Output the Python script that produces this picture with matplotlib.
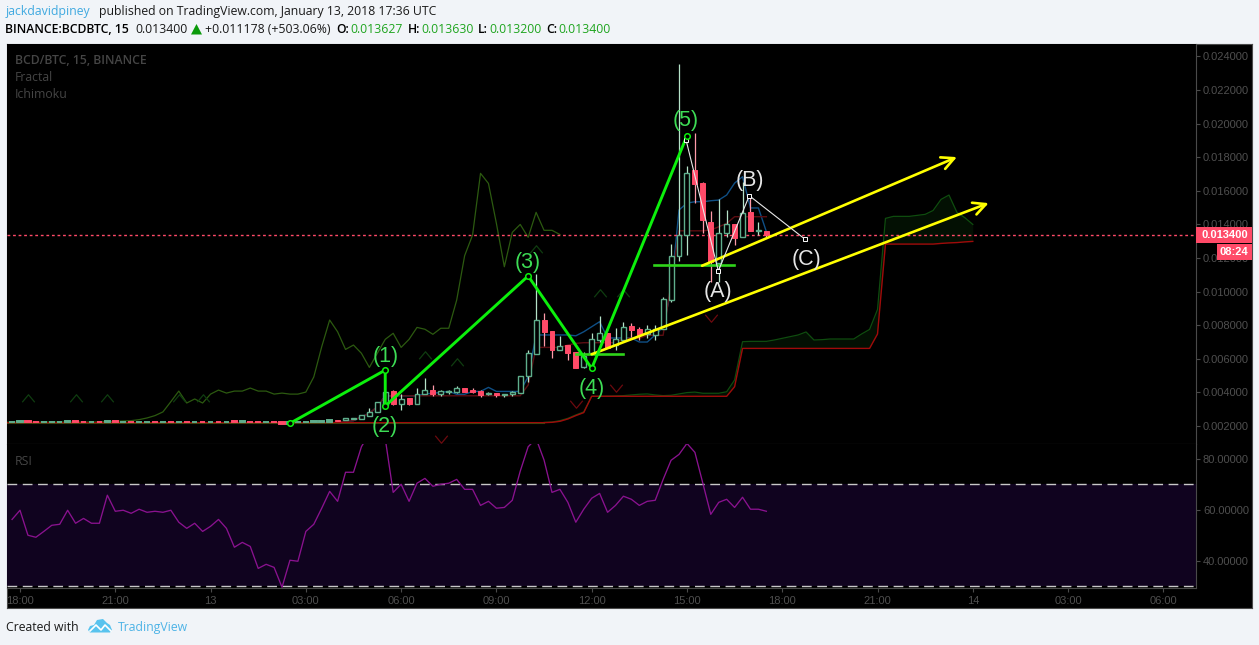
import matplotlib
matplotlib.use('Agg')
import matplotlib.pyplot as plt
from matplotlib.patches import Rectangle, Polygon
from matplotlib.path import Path
import numpy as np

W, H = 1259, 645
plt.rcParams['font.family'] = ['Open Sans', 'DejaVu Sans']

# x axis is bar number, one bar = 15 minutes, bar 0 = 18:00
time_ticks = [0, 12, 24, 36, 48, 60, 72, 84, 96, 108, 120, 132, 144]
time_labels = ['18:00', '21:00', '13', '03:00', '06:00', '09:00', '12:00', '15:00',
               '18:00', '21:00', '14', '03:00', '06:00']
price_ticks = [0.002, 0.004, 0.006, 0.008, 0.010, 0.012, 0.014, 0.016, 0.018, 0.020, 0.022, 0.024]
rsi_ticks = [40, 60, 80]

# almost flat candles, bars -1 to 39
flat_open = [.00222, .00221, .00227, .00224, .00223, .00222, .00223, .00222, .00229, .00224,
             .00223, .00223, .00222, .00228, .00224, .00224, .00223, .00224, .00225, .00224,
             .00225, .00224, .00226, .00223, .00226, .00223, .00226, .00223, .00228, .00222,
             .00224, .00224, .00223, .00224, .00224, .00215, .00221, .00223, .00224, .00225, .00225]
flat_close = [.00222, .00227, .00221, .00223, .00224, .00223, .00224, .00229, .00222, .00223,
              .00224, .00222, .00228, .00222, .00225, .00223, .00224, .00225, .00224, .00225,
              .00224, .00226, .00223, .00226, .00223, .00225, .00223, .00225, .00222, .00228,
              .00223, .00223, .00224, .00223, .00215, .00221, .00223, .00224, .00231, .00227, .00236]

# candles from bar 40 to 94
candle_open = [.00236, .00236, .00241, .00244, .00262, .00286,
               .00325, .00409, .00333, .00365, .00333, .00391, .00415, .00393, .00405, .00405,
               .00425, .00415, .00409, .00389, .00397, .00385, .00389, .00399, .00496, .00631,
               .00829, .00766, .00655, .00683, .00639, .00554, .00633, .00712, .00752, .00683,
               .00712, .00797, .00775, .00748, .00740, .00779, .00950, .01214, .01337, .01724,
               .01644, .01412, .01168, .01351, .01402, .01323, .01472, .01359, .013627]
candle_high = [.00236, .00250, .00250, .00268, .00306, .00341,
               .00405, .00415, .00391, .00365, .00425, .00484, .00444, .00415, .00415, .00439,
               .00425, .00425, .00415, .00405, .00397, .00389, .00409, .00496, .00653, .01105,
               .00871, .00766, .00736, .00683, .00643, .00643, .00756, .00855, .00752, .00782,
               .00821, .00815, .00791, .00801, .00801, .00970, .01281, .02355, .01748, .01942,
               .01654, .01480, .01551, .01486, .01402, .01654, .01575, .01414, .01363]
candle_low = [.00230, .00236, .00241, .00244, .00262, .00286,
              .00325, .00325, .00296, .00325, .00333, .00391, .00381, .00381, .00389, .00395,
              .00401, .00399, .00375, .00383, .00375, .00375, .00379, .00399, .00464, .00627,
              .00677, .00607, .00655, .00593, .00548, .00548, .00633, .00702, .00663, .00653,
              .00712, .00732, .00712, .00722, .00712, .00779, .00940, .01184, .01218, .01525,
              .01351, .01059, .01059, .01327, .01277, .01323, .01361, .01337, .01320]
candle_close = [.00230, .00246, .00248, .00264, .00282, .00341,
                .00405, .00331, .00359, .00331, .00389, .00413, .00391, .00407, .00409, .00425,
                .00401, .00403, .00385, .00397, .00385, .00389, .00401, .00496, .00633, .00829,
                .00762, .00653, .00679, .00637, .00548, .00619, .00716, .00752, .00663, .00716,
                .00787, .00771, .00742, .00779, .00779, .00954, .01210, .01337, .01704, .01640,
                .01426, .01178, .01351, .01400, .01321, .01470, .01361, .01365, .01340]

# lagging span, bars -2 to 68
lagging = [.00223, .00223, .00224, .00224, .00223, .00224, .00224, .00224, .00224, .00224,
           .00224, .00224, .00225, .00226, .00228, .00230, .00232, .00238, .00248, .00262,
           .00284, .00345, .00408, .00337, .00361, .00337, .00390, .00414, .00396, .00408,
           .00408, .00426, .00408, .00408, .00390, .00396, .00390, .00390, .00402, .00492,
           .00672, .00831, .00761, .00656, .00682, .00633, .00549, .00633, .00716, .00752,
           .00668, .00716, .00787, .00776, .00746, .00782, .00782, .00950, .01214, .01337,
           .01704, .01644, .01406, .01148, .01353, .01400, .01323, .01472, .01365, .01365, .01340]

# conversion line, bars 40 to 94
conversion = [.00225, .00227, .00232, .00255, .00276, .00315, .00380, .00380,
              .00380, .00380, .00380, .00391, .00395, .00400, .00406, .00389, .00389, .00406,
              .00406, .00430, .00406, .00406, .00406, .00406, .00494, .00742, .00742, .00742,
              .00742, .00742, .00737, .00761, .00791, .00821, .00724, .00724, .00724, .00724,
              .00700, .00700, .00742, .00789, .01010, .01486, .01527, .01535, .01535, .01541,
              .01545, .01575, .01646, .01684, .01498, .01498, .01357]
# base line, bars 40 to 94
base = [.00224, .00226, .00232, .00255, .00276, .00315, .00380, .00380, .00380, .00380,
        .00380, .00380, .00380, .00380, .00380, .00380, .00380, .00380, .00380, .00380,
        .00380, .00380, .00380, .00380, .00444, .00668, .00668, .00668, .00668, .00682,
        .00692, .00696, .00696, .00696, .00696, .00696, .00722, .00722, .00722, .00740,
        .00740, .00740, .01051, .01362, .01362, .01362, .01362, .01367, .01386, .01406,
        .01446, .01446, .01446, .01446, .01446]

# leading span B, bars -2 to 120
span_b = [.00220, .00220, .00220, .00220, .00220, .00220, .00220, .00220, .00220, .00220,
          .00220, .00220, .00220, .00220, .00220, .00220, .00220, .00220, .00220, .00220,
          .00220, .00220, .00220, .00220, .00220, .00220, .00220, .00220, .00220, .00220,
          .00220, .00220, .00220, .00220, .00220, .00220, .00220, .00220, .00220, .00220,
          .00220, .00220, .00220, .00220, .00220, .00220, .00220, .00220, .00220, .00220,
          .00220, .00220, .00220, .00220, .00220, .00220, .00220, .00220, .00220, .00220,
          .00220, .00220, .00220, .00220, .00220, .00220, .00220, .00220, .00220, .00222,
          .00228, .00242, .00262, .00280, .00377, .00377, .00377, .00377, .00377, .00377,
          .00377, .00377, .00377, .00377, .00377, .00377, .00377, .00377, .00377, .00377,
          .00377, .00377, .00434, .00662, .00662, .00662, .00662, .00662, .00662, .00662,
          .00662, .00662, .00662, .00662, .00662, .00662, .00662, .00662, .00662, .00662,
          .00748, .01283, .01283, .01283, .01283, .01283, .01283, .01283, .01287, .01290,
          .01292, .01296, .01299]
# leading span A, bars 66 to 120, it sits on span B before that
span_a = [.00222, .00224, .00232, .00246, .00266, .00284, .00377, .00377, .00378, .00379,
          .00381, .00385, .00389, .00391, .00385, .00381, .00383, .00391, .00399, .00402,
          .00395, .00395, .00395, .00404, .00474, .00702, .00704, .00704, .00704, .00712,
          .00722, .00732, .00742, .00760, .00712, .00714, .00718, .00718, .00718, .00718,
          .00748, .00775, .00894, .01436, .01448, .01448, .01448, .01454, .01460, .01483,
          .01549, .01575, .01472, .01440, .01400]

fractal_up_x = [1, 7, 11, 20, 23, 51, 55, 65, 73, 76]
fractal_up_y = [.00368, .00368, .00368, .00368, .00368, .00623, .00583, .01252, .00993, .00992]
fractal_down_x = [53, 70, 75, 87]
fractal_down_y = [.00121, .00331, .00424, .00845]

# rsi, bars -1 to 94
rsi = [56.3, 59.9, 50.1, 49.3, 51.6, 54.0, 54.4, 59.9, 54.8, 56.7, 54.8, 54.8, 65.8, 59.5, 59.9, 58.7,
       60.3, 59.1, 59.5, 59.1, 59.9, 55.2, 52.8, 54.8, 51.6, 53.6, 56.3, 52.8, 45.4, 47.3, 45.7, 37.1,
       38.7, 37.5, 29.7, 40.3, 39.9, 51.6, 54.4, 60.7, 67.3, 63.4, 74.8, 74.8, 84.8, 90.0, 92.0, 88.0,
       66.9, 70.1, 63.4, 70.5, 72.4, 69.3, 70.1, 70.5, 72.0, 68.1, 68.1, 61.8, 63.4, 60.7, 61.0, 63.8,
       75.2, 84.8, 88.0, 79.6, 66.9, 68.1, 63.0, 55.2, 60.3, 64.6, 66.5, 59.1, 61.8, 65.4, 64.2, 61.8,
       63.4, 63.8, 72.0, 79.5, 81.8, 86.1, 82.6, 70.5, 58.3, 63.0, 64.2, 61.0, 65.0, 60.3, 60.3, 59.5]

# hand drawn waves
wave_x = [34, 46, 46, 64, 72, 84]
wave_y = [.00216, .00533, .00319, .01093, .00543, .01928]
wave_labels = ['(1)', '(2)', '(3)', '(4)', '(5)']
wave_label_x = [46, 46, 63.9, 72, 83.9]
wave_label_y = [.00613, .00196, .01172, .00422, .02017]
abc_x = [83.9, 87.95, 91.85, 98.9]
abc_y = [.01900, .01123, .01571, .01311]
abc_labels = ['(A)', '(B)', '(C)']
abc_label_x = [87.9, 91.9, 99]
abc_label_y = [.01000, .01660, .01190]
last_price = 0.0134

BG = '#f1f4f8'
BORDER = '#4a4a4a'
TICK = '#4f4f4f'
RED = '#ff4a68'
HOLLOW = '#5fae8c'
WAVE = '#0cf00c'
TV_BLUE = '#3fa9e0'


def px_axes(left, top, right, bottom, **kw):
    return fig.add_axes([left / W, 1 - bottom / H, (right - left) / W, (bottom - top) / H], **kw)


fig = plt.figure(figsize=(W / 100, H / 100), dpi=100, facecolor=BG)

backdrop = px_axes(7, 43.5, 1252, 608, zorder=-1, facecolor='black')
backdrop.set_xticks([])
backdrop.set_yticks([])
for s in backdrop.spines.values():
    s.set_color(BORDER)

ax = px_axes(7, 44, 1196, 444, facecolor='black')
ax_rsi = px_axes(7, 444, 1196, 588, facecolor='black')
xlim = ((7 - 20) / 7.94, (1196 - 20) / 7.94)

for a in (ax, ax_rsi):
    a.set_xlim(*xlim)
    a.yaxis.tick_right()
    for name in ('left', 'top'):
        a.spines[name].set_visible(False)
    a.spines['right'].set_color(BORDER)
    a.spines['bottom'].set_color(BORDER)
    a.tick_params(axis='y', length=3, width=0.8, color=BORDER, labelcolor=TICK, labelsize=8, pad=2)
    a.set_xticks(time_ticks)

ax.set_ylim(0.00093, 0.02474)
ax.set_yticks(price_ticks)
ax.set_yticklabels([f'{v:.6f}' for v in price_ticks], family=['Liberation Sans'])
ax.tick_params(axis='x', length=0, labelbottom=False)

ax_rsi.set_ylim(29.41, 85.88)
ax_rsi.set_yticks(rsi_ticks)
ax_rsi.set_yticklabels([f'{v:.5f}' for v in rsi_ticks], family=['Liberation Sans'])
ax_rsi.set_xticklabels(time_labels, family=['Liberation Sans'])
ax_rsi.tick_params(axis='x', length=3, width=0.8, color=BORDER, labelcolor=TICK, labelsize=8, pad=3)

# ichimoku cloud
b_x = np.arange(-2, 121)
a_x = np.arange(66, 121)
b_on_a = np.array(span_b[68:])
ax.fill_between(a_x, span_a, b_on_a, where=np.array(span_a) >= b_on_a, color='#031003', lw=0, zorder=1)
ax.plot(b_x[:69], span_b[:69], color='#155a10', lw=0.8, zorder=2)
ax.plot(a_x, span_a, color='#0f4d0f', lw=0.9, zorder=2)
ax.plot(b_x, span_b, color='#a00a0a', lw=1.0, zorder=2.2)
ax.plot(np.arange(-2, 69), lagging, color='#2c5a10', lw=0.9, zorder=2)
ax.plot(np.arange(40, 95), base, color='#5c0d12', lw=1.0, zorder=2.1)
ax.plot(np.arange(40, 95), conversion, color='#0f4f85', lw=1.0, zorder=2)

# fractals
up_mark = Path([(-1, -0.6), (0, 0.6), (1, -0.6)], [Path.MOVETO, Path.LINETO, Path.LINETO])
down_mark = Path([(-1, 0.6), (0, -0.6), (1, 0.6)], [Path.MOVETO, Path.LINETO, Path.LINETO])
ax.plot(fractal_up_x, fractal_up_y, ls='none', marker=up_mark, ms=9, mfc='none', mec='#0f3d10', mew=0.9, zorder=2)
ax.plot(fractal_down_x, fractal_down_y, ls='none', marker=down_mark, ms=9, mfc='none', mec='#6d0a0f', mew=0.9, zorder=2)

# candles, the flat ones are so thin they read as solid stubs
flat_o = np.array(flat_open)
flat_c = np.array(flat_close)
flat_x = np.arange(-1, 40)
flat_up = flat_c >= flat_o
ax.bar(flat_x[flat_up], (flat_c - flat_o)[flat_up], bottom=flat_o[flat_up], width=0.7,
       color=HOLLOW, edgecolor=HOLLOW, lw=1.4, zorder=3.1)
ax.bar(flat_x[~flat_up], (flat_c - flat_o)[~flat_up], bottom=flat_o[~flat_up], width=0.7,
       color=RED, edgecolor=RED, lw=1.4, zorder=3.1)

c_open = np.array(candle_open)
c_high = np.array(candle_high)
c_low = np.array(candle_low)
c_close = np.array(candle_close)
c_x = np.arange(40, 95)
c_up = c_close >= c_open
ax.vlines(c_x[c_up], c_low[c_up], c_high[c_up], color='#b5e2c8', lw=0.9, zorder=3)
ax.vlines(c_x[~c_up], c_low[~c_up], c_high[~c_up], color='#ff9aa8', lw=0.9, zorder=3)
ax.bar(c_x[c_up], (c_close - c_open)[c_up], bottom=c_open[c_up], width=0.62,
       facecolor='black', edgecolor=HOLLOW, lw=1.0, zorder=3.1)
ax.bar(c_x[~c_up], (c_close - c_open)[~c_up], bottom=c_open[~c_up], width=0.62,
       facecolor=RED, edgecolor=RED, lw=0.7, zorder=3.1)

ax.axhline(last_price, color=RED, lw=1.0, ls=(0, (2, 2)), zorder=2.5)

# hand drawn lines
ax.plot([70, 76], [.00627, .00627], color='#2fd41a', lw=1.9, zorder=4)
ax.plot([79.9, 89.9], [.01156, .01156], color='#2fd41a', lw=1.9, zorder=4)
yellow = dict(arrowstyle='->,head_length=0.9,head_width=0.45', color='#ffff00', lw=1.9, shrinkA=0, shrinkB=0)
ax.annotate('', xy=(122, .01527), xytext=(72, .00627), arrowprops=yellow, zorder=4.1)
ax.annotate('', xy=(118, .01801), xytext=(85.9, .01154), arrowprops=yellow, zorder=4.1)
ax.plot(wave_x, wave_y, color=WAVE, lw=2.1, zorder=4.2, solid_joinstyle='miter')
ax.plot(wave_x, wave_y, ls='none', marker='o', ms=4, mfc='black', mec=WAVE, mew=1.1, zorder=4.25)
ax.plot(abc_x, abc_y, color='#e8e8e8', lw=0.8, zorder=4.2, marker='s', ms=2.5, mfc='black', mec='white', mew=0.7)
for s, x, y in zip(wave_labels, wave_label_x, wave_label_y):
    ax.text(x, y, s, color='#3ddc55', fontsize=15.5, family=['Liberation Sans'], ha='center', va='center', zorder=5)
for s, x, y in zip(abc_labels, abc_label_x, abc_label_y):
    ax.text(x, y, s, color='#e6e6e6', fontsize=15.5, family=['Liberation Sans'], ha='center', va='center', zorder=5)

# rsi panel
ax_rsi.axhspan(30, 70, color='#10031f', lw=0, zorder=1)
ax_rsi.axhline(70, color='#c8c8c8', lw=1.0, ls=(0, (7, 4)), zorder=2)
ax_rsi.axhline(30, color='#c8c8c8', lw=1.0, ls=(0, (7, 4)), zorder=2)
ax_rsi.plot(np.arange(-1, len(rsi) - 1), rsi, color='#8a128f', lw=0.95, zorder=3)

# chrome in pixel coordinates, above everything
top = fig.add_axes([0, 0, 1, 1], zorder=5)
top.set_xlim(0, W)
top.set_ylim(H, 0)
top.axis('off')


def label(x, y, s, color='black', weight='normal', size=8.8, ha='left', family=None):
    top.text(x, y, s, color=color, fontweight=weight, fontsize=size, ha=ha, va='center',
             family=family or ['Open Sans', 'DejaVu Sans'])


label(5.5, 11.5, 'jackdavidpiney', TV_BLUE)
label(99.5, 11.5, 'published on TradingView.com, January 13, 2018 17:36 UTC', '#1a1a1a')
label(5.5, 29.5, 'BINANCE:BCDBTC, 15', 'black', 'semibold')
label(135, 29.5, '0.013400', '#1a1a1a')
top.add_patch(Polygon([(191, 34.5), (202, 34.5), (196.5, 24)], closed=True, color='#0a9a0a', lw=0))
label(205, 29.5, '+0.011178 (+503.06%)', '#1a1a1a')
green_txt = '#1fa51f'
for x_name, name, x_val, val in [(336, 'O:', 350, '0.013627'), (408, 'H:', 421, '0.013630'),
                                 (478, 'L:', 489, '0.013200'), (546.5, 'C:', 558, '0.013400')]:
    label(x_name, 29.5, name, 'black', 'semibold')
    label(x_val, 29.5, val, green_txt)

label(15, 60.5, 'BCD/BTC, 15, BINANCE', '#454545', 'semibold', 8.8)
label(15, 77.5, 'Fractal', '#454545', 'normal', 8.8)
label(15, 95, 'Ichimoku', '#454545', 'normal', 8.8)
label(15, 461.5, 'RSI', '#454545', 'normal', 8.8)

top.add_patch(Rectangle((1196, 226.5), 56, 16.5, color=RED, lw=0))
top.add_patch(Rectangle((1217, 244), 35, 15.5, color=RED, lw=0))
label(1248, 235, '0.013400', 'white', 'bold', 8, 'right', ['Liberation Sans'])
label(1248, 252, '08:24', 'white', 'bold', 8, 'right', ['Liberation Sans'])

label(6, 627.5, 'Created with', '#1a1a1a')
top.add_patch(Polygon([(88, 630), (90, 626), (94, 625), (97, 620), (103, 619), (107, 623),
                       (110, 625), (112, 630), (110, 632.5), (90, 632.5)],
                      closed=True, color='#58c3ee', lw=0))
top.plot([90, 96, 101, 105, 111], [631, 625, 630, 625, 631], color='white', lw=1.2)
label(118, 627.5, 'TradingView', '#4db3e6')

fig.savefig('out.png', dpi=100, facecolor=BG)
